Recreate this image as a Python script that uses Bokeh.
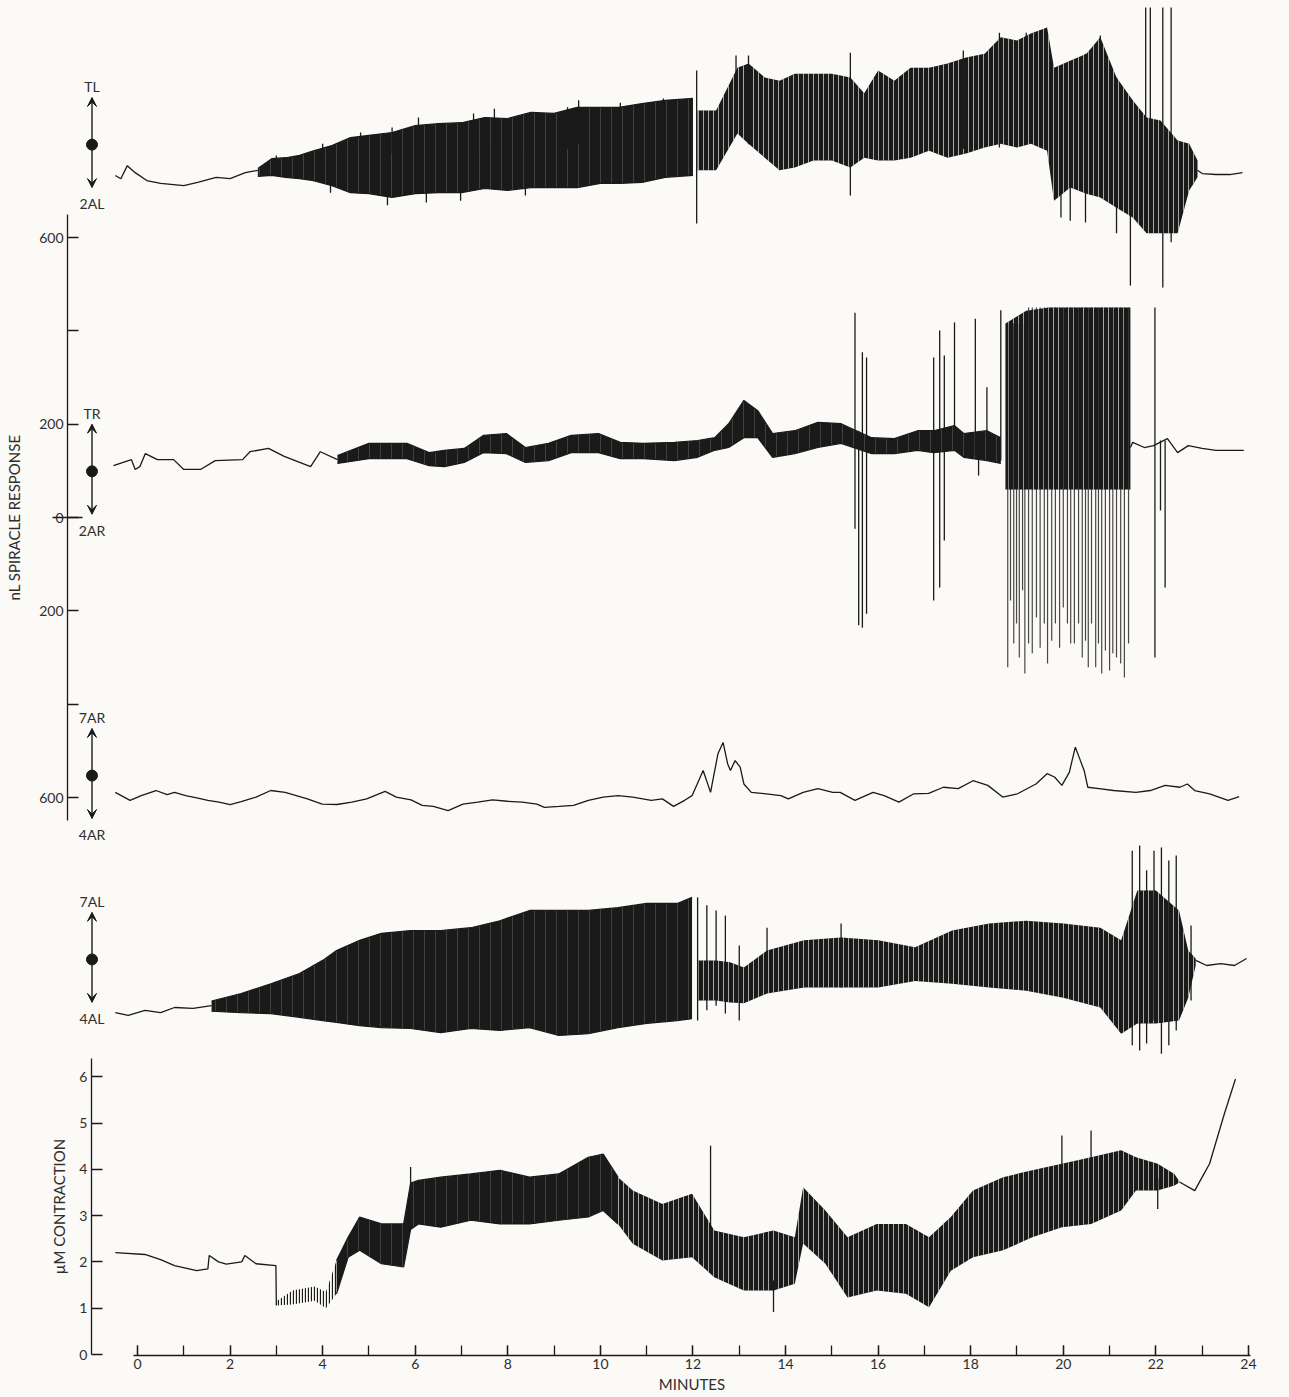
from bokeh.plotting import figure
from bokeh.models import (Range1d, LinearAxis, FixedTicker, SingleIntervalTicker,
                          CustomJSTickFormatter, Arrow, VeeHead)
from bokeh.core.properties import value
from bokeh.embed import file_html
from bokeh.resources import INLINE

# ---------------- DATA (time in minutes; spiracle traces in nL on the left scale; contraction in uM) ----
# Channel TL / 2AL
TL_A_T = [-0.48, -0.36, -0.22, -0.05, 0.2, 0.5, 1.0, 1.3, 1.7, 2.0, 2.33, 2.6]
TL_A_V = [733, 726, 754, 739, 722, 716, 711, 718, 729, 726, 739, 744]
TL_D_T = [2.6, 2.9, 3.2, 3.5, 3.8, 4.2, 4.6, 5.0, 5.5, 6.0, 6.5, 7.0, 7.5, 8.0, 8.5, 9.0, 9.5, 10.0,
          10.4, 10.9, 11.4, 12.0]
TL_D_HI = [748, 769, 771, 776, 786, 797, 814, 819, 825, 840, 844, 846, 857, 855, 868, 866, 879, 879,
           879, 887, 894, 898]
TL_D_LO = [731, 733, 729, 726, 722, 711, 696, 694, 686, 694, 696, 696, 705, 701, 707, 707, 707, 716,
           716, 718, 729, 733]
TL_S_T = [12.1, 12.5, 12.96, 13.2, 13.55, 13.87, 14.2, 14.6, 15.0, 15.4, 15.7, 16.0, 16.35, 16.7, 17.1,
          17.5, 17.9, 18.3, 18.65, 19.0, 19.3, 19.65, 19.8, 20.15, 20.5, 20.8, 21.15, 21.5, 21.8, 22.1,
          22.47, 22.72, 22.9]
TL_S_HI = [872, 872, 964, 973, 943, 936, 951, 951, 951, 943, 909, 958, 936, 964, 964, 973, 986, 994,
           1029, 1022, 1037, 1050, 964, 979, 994, 1029, 943, 894, 857, 851, 808, 801, 765]
TL_S_LO = [744, 744, 823, 801, 771, 744, 750, 765, 765, 750, 771, 765, 765, 771, 786, 771, 780, 793,
           801, 793, 801, 786, 679, 707, 694, 686, 664, 643, 609, 609, 609, 701, 729]
TL_B_T = [22.9, 23.0, 23.3, 23.6, 23.87]
TL_B_V = [744, 737, 735, 735, 739]
TL_SPK_T = [3.0, 4.0, 4.17, 4.82, 5.4, 5.5, 6.07, 6.24, 6.98, 7.26, 7.71, 8.38, 9.29, 9.53, 10.43, 11.36,
            12.08, 12.93, 13.2, 15.4, 17.84, 18.62, 19.2, 19.44, 19.95, 20.15, 20.48, 20.8, 21.15, 21.45,
            21.78, 21.88, 22.15, 22.33]
TL_SPK_HI = [776, 801, 760, 825, 760, 836, 857, 760, 760, 866, 876, 780, 879, 894, 889, 898,
             958, 990, 990, 996, 1001, 1039, 1039, 1039, 964, 979, 994, 1033, 943, 765, 1093, 1093, 1093, 1093]
TL_SPK_LO = [750, 760, 696, 780, 669, 780, 780, 675, 679, 790, 790, 690, 790, 800, 800, 800,
             630, 829, 800, 690, 790, 793, 800, 800, 643, 636, 632, 690, 609, 497, 614, 679, 493, 590]

# Channel TR / 2AR
TR_A_T = [-0.52, -0.13, -0.05, 0.05, 0.17, 0.43, 0.78, 1.0, 1.36, 1.68, 2.27, 2.43, 2.83, 3.17, 3.74, 3.95, 4.32]
TR_A_V = [111, 124, 103, 109, 137, 124, 124, 103, 103, 122, 124, 141, 148, 131, 109, 141, 124]
TR_D_T = [4.32, 5.0, 5.82, 6.3, 6.63, 7.06, 7.47, 7.97, 8.38, 8.88, 9.37, 9.96, 10.43, 10.93, 11.6,
          12.1, 12.47, 12.77, 13.1, 13.4, 13.72, 14.2, 14.7, 15.2, 15.86, 16.35, 16.85, 17.2, 17.65,
          17.85, 18.35, 18.65]
TR_D_HI = [133, 159, 159, 139, 144, 148, 176, 180, 150, 159, 176, 180, 161, 159, 161, 165, 171, 201,
           251, 229, 180, 186, 204, 201, 171, 169, 186, 186, 197, 180, 186, 171]
TR_D_LO = [116, 126, 126, 111, 109, 118, 139, 137, 118, 122, 139, 139, 126, 126, 122, 129, 144, 150,
           171, 171, 129, 137, 150, 159, 137, 137, 144, 139, 144, 129, 122, 116]
TR_S_T = [18.75, 19.2, 19.7, 20.2, 20.7, 21.2, 21.45]
TR_S_HI = [416, 443, 450, 450, 450, 450, 450]
TR_S_LO = [60, 60, 60, 60, 60, 60, 60]
TR_B_T = [21.45, 21.5, 21.75, 21.95, 22.25, 22.47, 22.7, 23.0, 23.3, 23.6, 23.9]
TR_B_V = [150, 161, 150, 154, 169, 139, 154, 148, 144, 144, 144]
TR_SPK_T = [15.5, 15.58, 15.66, 15.75, 17.2, 17.33, 17.43, 17.65, 18.1, 18.17, 18.35, 18.65, 21.98, 22.1, 22.2]
TR_SPK_HI = [439, 186, 354, 343, 343, 401, 347, 418, 426, 165, 279, 444, 450, 165, 165]
TR_SPK_LO = [-24, -231, -236, -206, -178, -150, -49, 144, 133, 90, 133, 122, -300, 15, -150]
TR_BURST_T = [18.8, 18.86, 18.93, 18.99, 19.05, 19.12, 19.17, 19.25, 19.33, 19.42, 19.5, 19.59, 19.66,
              19.75, 19.83, 19.92, 20.0, 20.09, 20.16, 20.24, 20.33, 20.41, 20.48, 20.54, 20.61, 20.7,
              20.76, 20.83, 20.91, 21.0, 21.07, 21.15, 21.24, 21.32, 21.41]
TR_BURST_HI = [416, 416, 416, 416, 416, 416, 416, 450, 450, 450, 450, 450, 450, 450, 450, 450, 450, 450,
               450, 450, 450, 450, 450, 450, 450, 450, 450, 450, 450, 450, 450, 450, 450, 450, 450]
TR_BURST_LO = [-321, -178, -270, -227, -300, -156, -334, -270, -291, -214, -279, -227, -313, -264, -227,
               -279, -193, -227, -270, -270, -227, -300, -264, -321, -227, -321, -270, -334, -285, -328,
               -291, -300, -313, -343, -270]

# Channel 7AR / 4AR
R7_T = [-0.48, -0.16, 0.08, 0.40, 0.64, 0.80, 1.04, 1.28, 1.52, 1.76, 2.00, 2.24, 2.56, 2.88, 3.19,
        3.43, 3.67, 3.99, 4.31, 4.63, 4.95, 5.35, 5.59, 5.91, 6.15, 6.39, 6.71, 7.03, 7.35, 7.67, 7.99,
        8.31, 8.63, 8.79, 9.11, 9.42, 9.74, 10.06, 10.38, 10.70, 11.10, 11.34, 11.58, 11.82, 11.98,
        12.22, 12.38, 12.54, 12.65, 12.75, 12.81, 12.91, 13.02, 13.10, 13.26, 13.58, 13.90, 14.06,
        14.38, 14.70, 15.02, 15.18, 15.50, 15.89, 16.13, 16.45, 16.77, 17.09, 17.41, 17.73, 18.05,
        18.37, 18.69, 19.01, 19.41, 19.65, 19.81, 19.97, 20.13, 20.26, 20.37, 20.45, 20.53, 20.77,
        21.09, 21.57, 21.88, 22.20, 22.52, 22.68, 22.84, 23.16, 23.56, 23.80]
R7_V = [-589, -606, -596, -585, -594, -589, -596, -601, -606, -610, -615, -609, -599, -585, -589,
        -596, -603, -614, -615, -610, -603, -587, -599, -605, -617, -619, -628, -614, -610, -605, -608,
        -610, -614, -621, -619, -617, -606, -599, -596, -599, -606, -603, -619, -606, -596,
        -542, -589, -506, -482, -528, -542, -521, -535, -571, -589, -592, -596, -603,
        -589, -581, -589, -589, -606, -589, -596, -610, -592, -591, -578, -581, -564,
        -574, -599, -592, -571, -549, -556, -574, -546, -492, -521, -542, -578, -581,
        -585, -589, -585, -574, -578, -571, -585, -592, -606, -598]

# Channel 7AL / 4AL
L7_A_T = [-0.48, -0.2, 0.16, 0.5, 0.8, 1.2, 1.6]
L7_A_V = [-1061, -1067, -1056, -1061, -1050, -1052, -1046]
L7_D_T = [1.6, 2.24, 2.88, 3.5, 4.0, 4.3, 4.8, 5.27, 5.9, 6.55, 7.2, 7.83, 8.47, 9.1, 9.74, 10.38,
          11.0, 11.66, 11.98]
L7_D_HI = [-1036, -1020, -999, -977, -949, -928, -906, -891, -885, -885, -879, -864, -842, -842, -842,
           -836, -827, -827, -814]
L7_D_LO = [-1058, -1061, -1063, -1071, -1078, -1082, -1089, -1093, -1095, -1104, -1095, -1099, -1093,
           -1110, -1106, -1093, -1084, -1078, -1074]
L7_S_T = [12.1, 12.5, 12.8, 13.1, 13.6, 14.4, 15.2, 16.0, 16.8, 17.6, 18.4, 19.2, 20.0, 20.8, 21.25,
          21.6, 22.0, 22.5, 22.7, 22.86]
L7_S_HI = [-949, -949, -953, -964, -928, -906, -900, -906, -921, -885, -870, -864, -870, -879, -906,
           -799, -799, -842, -928, -945]
L7_S_LO = [-1035, -1035, -1039, -1041, -1020, -1007, -1007, -1007, -993, -999, -1007, -1014, -1029,
           -1050, -1106, -1084, -1084, -1078, -1029, -960]
L7_B_T = [22.86, 23.1, 23.4, 23.7, 23.96]
L7_B_V = [-949, -960, -956, -960, -945]
L7_SPK_T = [12.1, 12.3, 12.5, 12.7, 13.0, 13.6, 15.2, 21.49, 21.65, 21.8, 21.96, 22.12, 22.28, 22.44, 22.76]
L7_SPK_HI = [-814, -831, -842, -853, -917, -879, -870, -714, -703, -756, -714, -707, -735, -724, -874]
L7_SPK_LO = [-1078, -1056, -1046, -1063, -1078, -1007, -1007, -1131, -1142, -1127, -1078, -1149, -1131,
             -1099, -1035]

# Contraction (uM)
CT_A_T = [-0.48, 0.16, 0.5, 0.8, 1.28, 1.52, 1.55, 1.75, 1.92, 2.25, 2.32, 2.56, 2.99, 3.0]
CT_A_V = [2.20, 2.16, 2.05, 1.92, 1.81, 1.85, 2.14, 2.0, 1.95, 2.0, 2.14, 1.96, 1.92, 1.06]
CT_1_T = [3.0, 3.35, 3.83, 4.07, 4.3]
CT_1_LO = [1.06, 1.08, 1.16, 1.0, 1.31]
CT_1_HI = [1.15, 1.38, 1.47, 1.35, 2.03]
CT_2_T = [4.3, 4.55, 4.8, 5.27, 5.75, 5.9, 6.07, 6.55, 7.2, 7.83, 8.47, 9.1, 9.74, 10.06, 10.38]
CT_2_LO = [1.31, 2.10, 2.25, 1.96, 1.89, 2.7, 2.82, 2.75, 2.90, 2.82, 2.82, 2.90, 2.97, 3.11, 2.82]
CT_2_HI = [2.03, 2.53, 2.97, 2.82, 2.82, 3.7, 3.76, 3.83, 3.90, 3.98, 3.83, 3.90, 4.26, 4.33, 3.83]
CT_3_T = [10.38, 10.7, 11.34, 11.98, 12.46, 13.1, 13.74, 14.2, 14.38, 14.86, 15.34, 15.97, 16.6, 17.1,
          17.57, 18.05, 18.7, 19.33, 19.97, 20.6, 21.25, 21.57, 22.04, 22.4, 22.52]
CT_3_LO = [2.82, 2.39, 2.03, 2.10, 1.67, 1.38, 1.38, 1.53, 2.4, 1.96, 1.23, 1.38, 1.31, 1.02, 1.81,
           2.10, 2.25, 2.53, 2.75, 2.82, 3.11, 3.54, 3.54, 3.65, 3.72]
CT_3_HI = [3.83, 3.54, 3.25, 3.47, 2.68, 2.53, 2.68, 2.53, 3.61, 3.11, 2.53, 2.82, 2.82, 2.53, 2.97,
           3.54, 3.83, 3.98, 4.12, 4.26, 4.41, 4.26, 4.12, 3.9, 3.72]
CT_B_T = [22.52, 22.84, 23.0, 23.16, 23.48, 23.72]
CT_B_V = [3.72, 3.54, 3.83, 4.12, 5.2, 5.95]
CT_SPK_T = [5.9, 12.38, 13.74, 19.97, 20.6, 22.04]
CT_SPK_LO = [2.8, 2.2, 0.92, 3.5, 3.5, 3.14]
CT_SPK_HI = [4.05, 4.51, 1.6, 4.73, 4.84, 3.8]

# Axis ticks / labels
NL_TICKS = [-600, -400, -200, 0, 200, 400, 600]
UM_TICKS = [0, 1, 2, 3, 4, 5, 6]
CH_TOP = ["TL", "TR", "7AR", "7AL"]
CH_BOT = ["2AL", "2AR", "4AR", "4AL"]

# ---------------- LAYOUT / STYLE ----------------
INK = "#1a1a1a"
TXT = "#2e2e2e"
BG = "#fbfaf7"
FONT = "Lato"
CH_DOT = [799, 99, -553, -947]       # nL position of each channel marker
MARK_X = -0.983                      # minutes, marker column
NL_AXIS_X = -1.512
UM_AXIS_X = -0.994
X_AXIS_Y = -1795.7                   # nL level of the time axis

p = figure(width=1289, height=1397, output_backend="svg", toolbar_location=None,
           x_range=Range1d(-2.9596, 24.887), y_range=Range1d(-1885.7, 1107.9),
           x_axis_location=None, y_axis_location=None,
           min_border_left=0, min_border_right=0, min_border_top=0, min_border_bottom=0,
           background_fill_color=BG, border_fill_color=BG, outline_line_color=None)
p.title.visible = False
p.grid.visible = False
p.extra_y_ranges = {"um": Range1d(-0.9287, 29.244)}

common_axis = dict(axis_line_color=INK, axis_line_width=1.3,
                   major_tick_line_color=INK, major_tick_line_width=1.3,
                   minor_tick_line_color=INK, minor_tick_line_width=1.3,
                   major_label_text_font=FONT, major_label_text_font_size="14px",
                   major_label_text_color=TXT,
                   axis_label_text_font=FONT, axis_label_text_font_size="15px",
                   axis_label_text_font_style="normal", axis_label_text_color=TXT)

xaxis = LinearAxis(fixed_location=X_AXIS_Y, ticker=SingleIntervalTicker(interval=2, num_minor_ticks=2),
                   bounds=(-0.08, 24.05), axis_label="MINUTES", major_tick_in=10, major_tick_out=0,
                   minor_tick_in=10, minor_tick_out=0, major_label_standoff=3,
                   axis_label_standoff=3, **common_axis)
p.add_layout(xaxis, "below")

nl_axis = LinearAxis(fixed_location=NL_AXIS_X, bounds=(-650, 650), ticker=FixedTicker(ticks=NL_TICKS),
                     formatter=CustomJSTickFormatter(
                         code="return Math.abs(tick) == 400 ? '' : String(Math.abs(tick));"),
                     axis_label="nL SPIRACLE RESPONSE", major_tick_in=11, major_tick_out=0,
                     minor_tick_in=0, minor_tick_out=0, major_label_standoff=4,
                     axis_label_standoff=13, **common_axis)
p.add_layout(nl_axis, "left")

zero_axis = LinearAxis(fixed_location=NL_AXIS_X, bounds=(-650, 650), ticker=FixedTicker(ticks=[0]),
                       major_tick_in=15, major_tick_out=15, major_tick_line_color=INK,
                       major_tick_line_width=1.3, axis_line_color=None,
                       major_label_text_color=None, minor_tick_in=0, minor_tick_out=0)
p.add_layout(zero_axis, "left")

um_axis = LinearAxis(y_range_name="um", fixed_location=UM_AXIS_X, bounds=(0, 6.4),
                     ticker=FixedTicker(ticks=UM_TICKS), axis_label="µM CONTRACTION",
                     major_tick_in=11, major_tick_out=0, minor_tick_in=0, minor_tick_out=0,
                     major_label_standoff=4, axis_label_standoff=8, **common_axis)
p.add_layout(um_axis, "left")


def quiet(t, v, **kw):
    p.line(t, v, line_color=INK, line_width=1.3, **kw)


def band(t, lo, hi, style="solid", **kw):
    if style == "solid":
        p.varea(x=t, y1=lo, y2=hi, fill_color=INK, hatch_pattern="vertical_line",
                hatch_color=BG, hatch_alpha=0.22, hatch_scale=11, hatch_weight=0.8, **kw)
        p.line(t, lo, line_color=INK, line_width=1.2, **kw)
        p.line(t, hi, line_color=INK, line_width=1.2, **kw)
    elif style == "streaky":
        p.varea(x=t, y1=lo, y2=hi, fill_color=INK, hatch_pattern="vertical_line",
                hatch_color=BG, hatch_alpha=0.7, hatch_scale=5, hatch_weight=0.9, **kw)
    else:
        p.varea(x=t, y1=lo, y2=hi, fill_color=None, hatch_pattern="vertical_line",
                hatch_color=INK, hatch_alpha=1.0, hatch_scale=3, hatch_weight=1.3, **kw)


def spikes(t, lo, hi, width=1.3, alpha=1.0, **kw):
    p.segment(x0=t, y0=lo, x1=t, y1=hi, line_color=INK, line_width=width, line_alpha=alpha, **kw)


# TL / 2AL
quiet(TL_A_T, TL_A_V)
band(TL_D_T, TL_D_LO, TL_D_HI, "solid")
band(TL_S_T, TL_S_LO, TL_S_HI, "streaky")
quiet(TL_B_T, TL_B_V)
spikes(TL_SPK_T, TL_SPK_LO, TL_SPK_HI)

# TR / 2AR
quiet(TR_A_T, TR_A_V)
band(TR_D_T, TR_D_LO, TR_D_HI, "solid")
band(TR_S_T, TR_S_LO, TR_S_HI, "streaky")
quiet(TR_B_T, TR_B_V)
spikes(TR_SPK_T, TR_SPK_LO, TR_SPK_HI)
spikes(TR_BURST_T, TR_BURST_LO, TR_BURST_HI, width=1.2, alpha=0.8)

# 7AR / 4AR
quiet(R7_T, R7_V)

# 7AL / 4AL
quiet(L7_A_T, L7_A_V)
band(L7_D_T, L7_D_LO, L7_D_HI, "solid")
band(L7_S_T, L7_S_LO, L7_S_HI, "streaky")
quiet(L7_B_T, L7_B_V)
spikes(L7_SPK_T, L7_SPK_LO, L7_SPK_HI)

# Contraction
quiet(CT_A_T, CT_A_V, y_range_name="um")
band(CT_1_T, CT_1_LO, CT_1_HI, "lines", y_range_name="um")
band(CT_2_T, CT_2_LO, CT_2_HI, "solid", y_range_name="um")
band(CT_3_T, CT_3_LO, CT_3_HI, "streaky", y_range_name="um")
quiet(CT_B_T, CT_B_V, y_range_name="um")
spikes(CT_SPK_T, CT_SPK_LO, CT_SPK_HI, y_range_name="um")

# Channel markers (arrows, dots, names)
TOP_LABEL_OFF, TOP_TIP_OFF, BOT_TIP_OFF, BOT_LABEL_OFF = 124, 101, -92, -126
p.text(x=[MARK_X] * 4, y=[d + TOP_LABEL_OFF for d in CH_DOT], text=CH_TOP,
       text_align="center", text_baseline="middle", text_font=value(FONT),
       text_font_size="14px", text_color=TXT)
p.text(x=[MARK_X] * 4, y=[d + BOT_LABEL_OFF for d in CH_DOT], text=CH_BOT,
       text_align="center", text_baseline="middle", text_font=value(FONT),
       text_font_size="14px", text_color=TXT)
for d in CH_DOT:
    for off in (TOP_TIP_OFF, BOT_TIP_OFF):
        p.add_layout(Arrow(end=VeeHead(size=9, fill_color=INK, line_color=INK, line_width=1),
                           x_start=MARK_X, y_start=d, x_end=MARK_X, y_end=d + off,
                           line_color=INK, line_width=1.4))
p.scatter([MARK_X] * 4, CH_DOT, size=11, color=INK)

open("out.html", "w").write(file_html(p, INLINE))
